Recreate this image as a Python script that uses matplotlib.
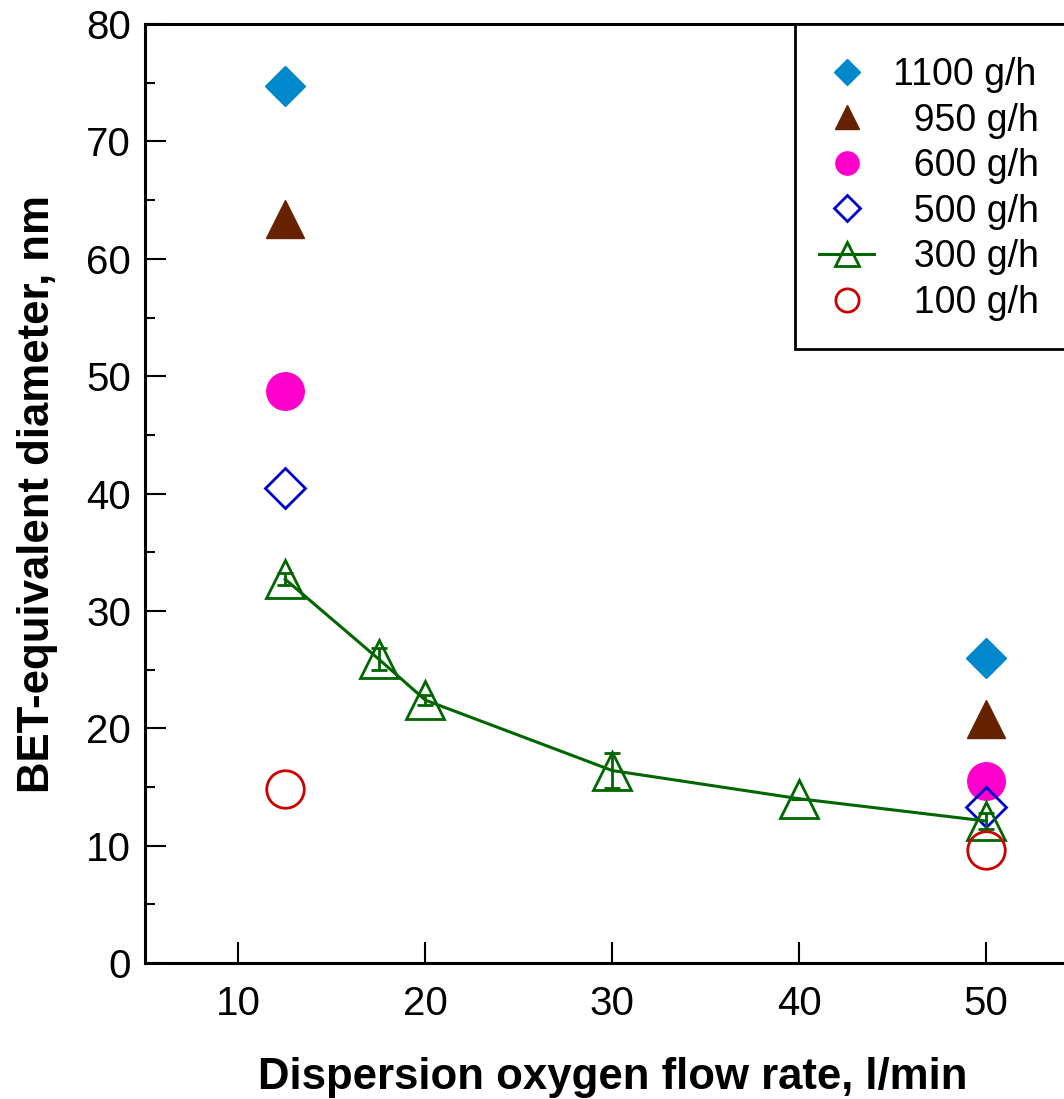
import matplotlib
matplotlib.use("Agg")
import matplotlib.pyplot as plt
from matplotlib.patches import Rectangle
from matplotlib.ticker import MultipleLocator

plt.rcParams['font.family'] = ['Liberation Sans', 'DejaVu Sans']

# Dispersion oxygen flow rate (l/min) and BET-equivalent diameter (nm)
flow_ends = [12.5, 50]
d_1100 = [74.7, 26.0]
d_950 = [63.4, 20.8]
d_600 = [48.7, 15.5]
d_500 = [40.5, 13.3]
d_100 = [14.8, 9.6]

flow_300 = [12.5, 17.5, 20, 30, 40, 50]
d_300 = [32.7, 25.9, 22.4, 16.4, 14.0, 12.1]
err_300 = [0.5, 0.9, 0.4, 1.5, 0.0, 0.7]

labels = ["1100 g/h", "  950 g/h", "  600 g/h", "  500 g/h", "  300 g/h", "  100 g/h"]
x_ticks = [10, 20, 30, 40, 50]

fig = plt.figure(figsize=(10.64, 10.99), dpi=100)
ax = fig.add_axes([0.1363, 0.1237, 0.8784, 0.8544])

ms = 27
dms = ms * 0.77
ax.plot(flow_ends, d_1100, ls='none', marker='D', ms=dms, color='#0088cc',
        mec='#0088cc', label=labels[0])
ax.plot(flow_ends, d_950, ls='none', marker='^', ms=ms, color='#662200',
        mec='#662200', label=labels[1])
ax.plot(flow_ends, d_600, ls='none', marker='o', ms=ms, color='#ff00cc',
        mec='#ff00cc', label=labels[2])
ax.plot(flow_ends, d_500, ls='none', marker='D', ms=dms, mfc='none',
        mec='#0000cc', mew=2, label=labels[3])
ax.errorbar(flow_300, d_300, yerr=err_300, fmt='none', ecolor='#006600',
            elinewidth=2, capsize=5.5, capthick=2)
ax.plot(flow_300, d_300, ls='-', lw=2.2, color='#006600', marker='^', ms=ms,
        mfc='none', mec='#006600', mew=2, label=labels[4])
ax.plot(flow_ends, d_100, ls='none', marker='o', ms=ms, mfc='none',
        mec='#cc0000', mew=2, label=labels[5])

ax.set_xlim(5, 55)
ax.set_ylim(0, 80)
ax.set_xticks(x_ticks)
ax.yaxis.set_major_locator(MultipleLocator(10))
ax.yaxis.set_minor_locator(MultipleLocator(5))

for side in ['left', 'bottom', 'top', 'right']:
    ax.spines[side].set_linewidth(2.2)

ax.tick_params(axis='both', which='major', direction='in', length=15, width=1.5,
               labelsize=29)
ax.tick_params(axis='y', which='minor', direction='in', length=7.5, width=1.5)
ax.tick_params(axis='y', which='major', pad=10)
ax.tick_params(axis='x', which='major', pad=16)

ax.set_xlabel("Dispersion oxygen flow rate, l/min", fontsize=31.5, fontweight='bold',
              labelpad=24)
ax.set_ylabel("BET-equivalent diameter, nm", fontsize=31.5, fontweight='bold',
              labelpad=20)

# Legend box drawn as a separate frame so its padding can be set freely
frame = Rectangle((0.6955, 0.6539), 0.3045, 0.3461, transform=ax.transAxes,
                  facecolor='white', edgecolor='black', lw=2, zorder=4,
                  clip_on=False)
ax.add_patch(frame)

leg = ax.legend(loc='upper left', bbox_to_anchor=(0.7212, 0.9649), borderaxespad=0,
                fontsize=27, frameon=False, markerscale=0.62, labelspacing=0.254,
                borderpad=0, handlelength=1.47, handletextpad=0.5)
leg.set_zorder(5)

fig.savefig("out.png", dpi=100)
